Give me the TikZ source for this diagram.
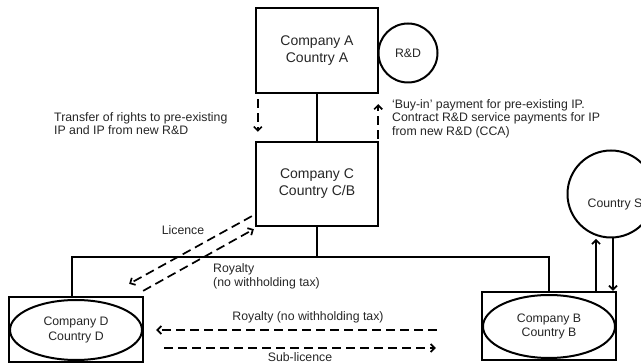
\documentclass[tikz,border=0pt]{standalone}
\usepackage{fontspec}
\setmainfont{Liberation Sans}
\usetikzlibrary{arrows.meta,calc,shapes.geometric}
\begin{document}
\begin{tikzpicture}[x=1pt,y=-1pt,
  box/.style={draw,line width=2.3pt,rectangle,inner sep=0pt},
  oval/.style={draw,line width=2pt,ellipse,inner sep=0pt},
  ring/.style={draw,line width=2pt,circle,inner sep=0pt},
  bigtxt/.style={font=\fontsize{14}{17}\selectfont,align=center,text=black!85},
  smalltxt/.style={font=\fontsize{12.3}{14.5}\selectfont,align=center,text=black!85},
  lbl/.style={font=\fontsize{12.3}{13.4}\selectfont,align=left,inner sep=0pt,text=black!85},
  link/.style={line width=1.7pt},
  flow/.style={line width=1.7pt,dash pattern=on 9pt off 5pt,-{Straight Barb[length=4pt,width=8pt]}},
  pay/.style={line width=1.7pt,-{Straight Barb[length=4pt,width=8pt]}}
]
\clip (0,0) rectangle (641,363);
\fill[white] (0,0) rectangle (641,363);

% entities
\node[box,minimum width=122pt,minimum height=85pt,bigtxt] (A) at (317,50.5) {Company A\\Country A};
\node[ring,minimum size=59pt,smalltxt] (RD) at (408,53) {R\&D};
\node[box,minimum width=122pt,minimum height=84pt,bigtxt] (C) at (317,184) {Company C\\Country C/B};
\node[ring,minimum size=87pt] (S) at (611,194) {};
\node[smalltxt] (St) at (615,204) {Country S};
\node[box,minimum width=134pt,minimum height=65pt] (D) at (76,329.5) {};
\node[oval,minimum width=132pt,minimum height=60pt,smalltxt] (Dov) at (76,330) {Company D\\Country D};
\node[box,minimum width=134pt,minimum height=68pt] (B) at (549,326) {};
\node[oval,minimum width=132pt,minimum height=63pt,smalltxt] (Bov) at (549,326.5) {Company B\\Country B};

% ownership lines
\coordinate (busL) at (72,257);
\coordinate (busR) at (549,257);
\draw[link] (A.south) -- (C.north);
\draw[link] (C.south) -- (C.south |- busL);
\draw[link] (busL |- D.north) -- (busL) -- (busR) -- (B.north);

% flows between A and C
\draw[flow] ($(A.south west)+(3,5)$) -- ($(C.north west)+(3,-9)$);
\draw[flow] ($(C.north east)+(-1,-2)$) -- ($(A.south east)+(-1,10)$);

% flows between C and D
\draw[flow] ($(C.south west)+(-3,-11)$) -- ($(D.north east)+(-15,-12)$);
\draw[flow] ($(D.north east)+(-1,-5)$) -- ($(C.south west)+(-1,2)$);

% flows between B and D
\draw[flow] ($(B.west)+(-44,4)$) -- ($(D.east)+(12,0.5)$);
\draw[flow] ($(D.east)+(20,18.5)$) -- ($(B.west)+(-45,22)$);

% flows between B and S
\draw[pay] ($(B.north)+(47,0)$) -- ++(0,-52);
\draw[pay] ($(S.south)+(2,0)$) -- ($(B.north)+(64,0)$);

% labels
\node[lbl,anchor=west] (t1) at (54,123.5) {Transfer of rights to pre-existing\\IP and IP from new R\&D};
\node[lbl,anchor=west,font=\fontsize{12.3}{13.5}\selectfont] (t2) at (392,118.5) {`Buy-in' payment for pre-existing IP.\\Contract R\&D service payments for IP\\from new R\&D (CCA)};
\node[lbl] (lic) at (183,230) {Licence};
\node[lbl,anchor=west] (roy1) at (213,276.5) {Royalty\\(no withholding tax)};
\node[lbl] (roy2) at (308,317) {Royalty (no withholding tax)};
\node[lbl] (sub) at (300,357) {Sub-licence};
\end{tikzpicture}
\end{document}
